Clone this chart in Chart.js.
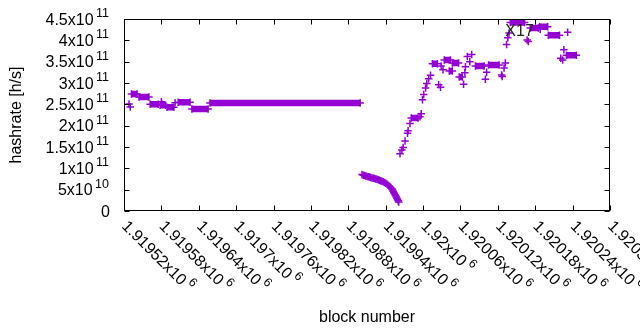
<!DOCTYPE html>
<html>
<head>
<meta charset="utf-8">
<script src="https://cdn.jsdelivr.net/npm/chart.js@4/dist/chart.umd.min.js"></script>
<style>
  html, body { margin: 0; background: #fff; }
  canvas { display: block; }
</style>
</head>
<body>
<canvas id="hashrate-chart" width="640" height="330"></canvas>
<script>
// runs of blocks that share one hashrate value (drawn as dense "+" bands)
const plateauStart = [1919532, 1919544, 1919562, 1919578, 1919589, 1919607, 1919629, 1919658,
  1919981, 1920015, 1920034, 1920042, 1920047, 1920058, 1920084, 1920105,
  1920140, 1920172, 1920187, 1920201, 1920230];
const plateauEnd = [1919541, 1919560, 1919575, 1919587, 1919600, 1919626, 1919655, 1919899,
  1919992, 1920023, 1920044, 1920047, 1920057, 1920063, 1920098, 1920122,
  1920163, 1920185, 1920200, 1920219, 1920246];
const plateauHashrate = [2.74e11, 2.67e11, 2.50e11, 2.48e11, 2.43e11, 2.55e11, 2.39e11, 2.53e11,
  2.18e11, 3.45e11, 3.54e11, 3.28e11, 3.47e11, 3.14e11, 3.40e11, 3.42e11,
  4.42e11, 4.29e11, 4.32e11, 4.12e11, 3.65e11];

// single blocks
const pointBlock = [
  1919528, 1919530, 1919580, 1919582, 1919602,
  1919902, 1919904, 1919906, 1919908, 1919910, 1919912, 1919914, 1919916, 1919918, 1919920,
  1919922, 1919924, 1919926, 1919928, 1919930, 1919932, 1919934, 1919936, 1919938, 1919940,
  1919942, 1919944, 1919946, 1919948, 1919950, 1919951, 1919952, 1919953, 1919954, 1919955,
  1919956, 1919957, 1919958, 1919959, 1919960, 1919961,
  1919963, 1919966, 1919968, 1919971, 1919975, 1919976, 1919979,
  1919995, 1919997, 1919999, 1920001, 1920004, 1920006, 1920009, 1920012,
  1920025, 1920028, 1920029, 1920032, 1920065, 1920067, 1920068, 1920071, 1920075, 1920078,
  1920100, 1920102, 1920126, 1920127, 1920130, 1920132, 1920134, 1920136, 1920138,
  1920167, 1920169, 1920188, 1920221, 1920224, 1920226, 1920232
];
const pointHashrate = [
  2.51e11, 2.44e11, 2.56e11, 2.50e11, 2.54e11,
  8.55e10, 8.4e10, 8.3e10, 8.2e10, 8.1e10, 8.0e10, 7.95e10, 7.85e10, 7.75e10, 7.7e10,
  7.6e10, 7.5e10, 7.45e10, 7.3e10, 7.2e10, 7.1e10, 7.0e10, 6.85e10, 6.7e10, 6.5e10,
  6.3e10, 6.05e10, 5.8e10, 5.5e10, 5.2e10, 4.9e10, 4.6e10, 4.3e10, 4.1e10, 3.8e10,
  3.55e10, 3.3e10, 3.0e10, 2.7e10, 2.4e10, 2.1e10,
  1.34e11, 1.43e11, 1.49e11, 1.64e11, 1.82e11, 1.88e11, 2.05e11,
  2.21e11, 2.28e11, 2.61e11, 2.73e11, 2.88e11, 2.99e11, 3.10e11, 3.18e11,
  2.96e11, 2.90e11, 3.40e11, 3.31e11, 2.97e11, 3.24e11, 3.38e11, 3.62e11, 3.50e11, 3.67e11,
  3.09e11, 3.25e11, 3.19e11, 3.15e11, 3.35e11, 3.47e11, 3.90e11, 4.06e11, 4.17e11,
  4.01e11, 3.97e11, 4.26e11, 3.58e11, 3.54e11, 3.78e11, 4.19e11
];

const xTickValues = [1919520, 1919580, 1919640, 1919700, 1919760, 1919820, 1919880,
  1919940, 1920000, 1920060, 1920120, 1920180, 1920240, 1920300];
const xTickMantissa = ['1.91952x10', '1.91958x10', '1.91964x10', '1.9197x10', '1.91976x10',
  '1.91982x10', '1.91988x10', '1.91994x10', '1.92x10', '1.92006x10', '1.92012x10',
  '1.92018x10', '1.92024x10', '1.9203x10'];
const xTickExponent = '6';

const yTickValues = [0, 5e10, 1e11, 1.5e11, 2e11, 2.5e11, 3e11, 3.5e11, 4e11, 4.5e11];
const yTickMantissa = ['0', '5x10', '1x10', '1.5x10', '2x10', '2.5x10', '3x10', '3.5x10', '4x10', '4.5x10'];
const yTickExponent = ['', '10', '11', '11', '11', '11', '11', '11', '11', '11'];

const noteText = 'X17';
const noteBlock = 1920132;
const noteHashrate = 4.21e11;

const PURPLE = '#9400d3';
const FONT = '"Liberation Sans", Arial, sans-serif';
const BASE_FONT = `16px ${FONT}`;
const EXP_FONT = `12.5px ${FONT}`;

function buildPlateauPoints() {
  const out = [];
  plateauStart.forEach((start, i) => {
    out.push({ x: start, y: plateauHashrate[i] });
    out.push({ x: plateauEnd[i], y: plateauHashrate[i] });
    out.push({ x: plateauEnd[i], y: null });
  });
  return out;
}

const gnuplotFrame = {
  id: 'gnuplotFrame',
  afterDatasetsDraw(chart) {
    const { ctx, chartArea: area, scales: { x, y } } = chart;
    ctx.save();

    // annotation inside the plot
    ctx.font = `16px ${FONT}`;
    ctx.textAlign = 'left';
    ctx.textBaseline = 'middle';
    ctx.fillStyle = '#222';
    ctx.fillText(noteText, x.getPixelForValue(noteBlock), y.getPixelForValue(noteHashrate));

    // border and inward ticks on all sides
    ctx.strokeStyle = '#000';
    ctx.lineWidth = 1;
    const left = Math.round(area.left) + 0.5;
    const right = Math.round(area.right) - 0.5;
    const top = Math.round(area.top) + 0.5;
    const bottom = Math.round(area.bottom) - 0.5;
    ctx.strokeRect(left, top, right - left, bottom - top);
    const tick = 5;
    ctx.beginPath();
    xTickValues.forEach((v) => {
      const px = Math.round(x.getPixelForValue(v)) + 0.5;
      ctx.moveTo(px, bottom); ctx.lineTo(px, bottom - tick);
      ctx.moveTo(px, top); ctx.lineTo(px, top + tick);
    });
    yTickValues.forEach((v) => {
      const py = Math.round(y.getPixelForValue(v)) + 0.5;
      ctx.moveTo(left, py); ctx.lineTo(left + tick, py);
      ctx.moveTo(right, py); ctx.lineTo(right - tick, py);
    });
    ctx.stroke();

    ctx.fillStyle = '#000';
    // y tick labels with raised exponent
    yTickValues.forEach((v, i) => {
      const py = y.getPixelForValue(v);
      ctx.textAlign = 'right';
      ctx.textBaseline = 'alphabetic';
      if (!yTickExponent[i]) {
        ctx.font = BASE_FONT;
        ctx.fillText(yTickMantissa[i], 110, py + 5.5);
        return;
      }
      ctx.font = EXP_FONT;
      const expWidth = ctx.measureText(yTickExponent[i]).width;
      ctx.fillText(yTickExponent[i], 109, py - 2);
      ctx.font = BASE_FONT;
      ctx.fillText(yTickMantissa[i], 109 - expWidth - 2.5, py + 5.5);
    });

    // x tick labels, rotated 45 degrees
    xTickValues.forEach((v, i) => {
      const px = x.getPixelForValue(v);
      ctx.save();
      ctx.translate(px + 1, 223);
      ctx.rotate(Math.PI / 4);
      ctx.textAlign = 'left';
      ctx.textBaseline = 'alphabetic';
      ctx.font = BASE_FONT;
      ctx.fillText(xTickMantissa[i], 0, 5.5);
      const w = ctx.measureText(xTickMantissa[i]).width;
      ctx.font = EXP_FONT;
      ctx.fillText(xTickExponent, w + 3, -2);
      ctx.restore();
    });

    // axis titles
    ctx.font = BASE_FONT;
    ctx.textAlign = 'center';
    ctx.textBaseline = 'alphabetic';
    ctx.fillText('block number', (area.left + area.right) / 2, 321.5);
    ctx.save();
    ctx.translate(21, (area.top + area.bottom) / 2);
    ctx.rotate(-Math.PI / 2);
    ctx.fillText('hashrate [h/s]', 0, 0);
    ctx.restore();

    ctx.restore();
  }
};

new Chart(document.getElementById('hashrate-chart'), {
  type: 'scatter',
  data: {
    datasets: [
      {
        label: 'runs',
        data: buildPlateauPoints(),
        showLine: true,
        spanGaps: false,
        borderColor: PURPLE,
        backgroundColor: PURPLE,
        borderWidth: 6.5,
        borderCapStyle: 'butt',
        pointStyle: 'cross',
        pointRadius: 3.75,
        pointBorderWidth: 1.5,
        pointBorderColor: PURPLE
      },
      {
        label: 'blocks',
        data: pointBlock.map((b, i) => ({ x: b, y: pointHashrate[i] })),
        borderColor: PURPLE,
        backgroundColor: PURPLE,
        pointStyle: 'cross',
        pointRadius: 3.75,
        pointBorderWidth: 1.5,
        pointBorderColor: PURPLE
      }
    ]
  },
  options: {
    responsive: false,
    devicePixelRatio: 1,
    animation: false,
    layout: { padding: { left: 124, right: 30, top: 19, bottom: 119 } },
    plugins: { legend: { display: false }, tooltip: { enabled: false } },
    scales: {
      x: { type: 'linear', min: 1919520, max: 1920300, display: false },
      y: { type: 'linear', min: 0, max: 4.5e11, display: false }
    }
  },
  plugins: [gnuplotFrame]
});
</script>
</body>
</html>
